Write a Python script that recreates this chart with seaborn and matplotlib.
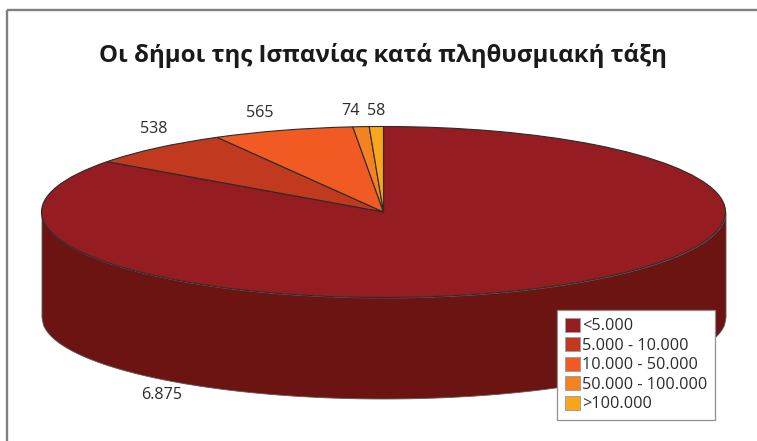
import numpy as np
import matplotlib
matplotlib.use("Agg")
import matplotlib.pyplot as plt
from matplotlib.lines import Line2D
from matplotlib.patches import Patch
import seaborn as sns

title = "Οι δήμοι της Ισπανίας κατά πληθυσμιακή τάξη"
categories = ["<5.000", "5.000 - 10.000", "10.000 - 50.000", "50.000 - 100.000", ">100.000"]
value_labels = ["6.875", "538", "565", "74", "58"]
drawn_values = [6895, 559, 540, 62, 54]
colors = ["#951c20", "#c1391f", "#f15a22", "#f58220", "#faa61a"]
side_color = "#6b1412"

W, H = 757, 441
CX, CY, RX, RY, DEPTH, BOTTOM_RY = 383.5, 212, 342, 85.5, 105, 81.5

sns.set_theme(style="white")
plt.rcParams["font.family"] = ["Open Sans", "DejaVu Sans"]

fig = plt.figure(figsize=(W / 100, H / 100), dpi=100, facecolor="white")
ax = fig.add_axes([0, 0, 1, 1])

def X(px): return (px - CX) / RX
def Y(py): return (CY - py) / RY

# cylinder side
xs = np.linspace(-1, 1, 500)
upper = -np.sqrt(1 - xs ** 2)
lower = -DEPTH / RY - (BOTTOM_RY / RY) * np.sqrt(1 - xs ** 2)
ax.fill_between(xs, upper, lower, color=side_color, ec="#5a5a5a", lw=0.6, zorder=1)

# top face
wedges, _ = ax.pie(drawn_values, colors=sns.color_palette(colors), startangle=90, counterclock=False,
                   radius=1, wedgeprops=dict(edgecolor="#2b2b2b", linewidth=0.8, zorder=2))
ax.set_aspect("auto")
ax.set_xlim(X(0), X(W))
ax.set_ylim(Y(H), Y(0))
ax.axis("off")

# frame: only the top and left edges are visible in the crop
frame_kw = dict(transform=fig.transFigure, color="#808080", lw=1.7, solid_capstyle="butt")
fig.add_artist(Line2D([7 / W, 1], [1 - 10 / H] * 2, **frame_kw))
fig.add_artist(Line2D([7 / W] * 2, [1 - 10 / H, 0], **frame_kw))

# title
fig.text(383 / W, 1 - 56 / H, title, ha="center", va="center", fontsize=17.3,
         fontweight="bold", color="#1a1a1a")

# value labels
label_pos = [(161.5, 395), (154, 129), (259.5, 113), (351, 111), (376, 111)]
for (px, py), lab in zip(label_pos, value_labels):
    ax.text(X(px), Y(py), lab, ha="center", va="center", fontsize=11.6, color="#2b2b2b", zorder=5)

# legend
handles = [Patch(facecolor=c, edgecolor="#a0a0a0", linewidth=0.7) for c in colors]
leg = ax.legend(handles, categories, loc="upper left",
                bbox_to_anchor=(557 / W, 1 - 310 / H), bbox_transform=fig.transFigure,
                fontsize=11.7, frameon=True, fancybox=False, framealpha=1, edgecolor="#909090",
                handlelength=0.93, handleheight=0.93, handletextpad=0.15, labelspacing=0.185,
                borderpad=0.48, borderaxespad=0, labelcolor="#2b2b2b")
leg.get_frame().set_linewidth(0.9)
leg.set_zorder(6)

fig.savefig("out.png", dpi=100, facecolor="white")
